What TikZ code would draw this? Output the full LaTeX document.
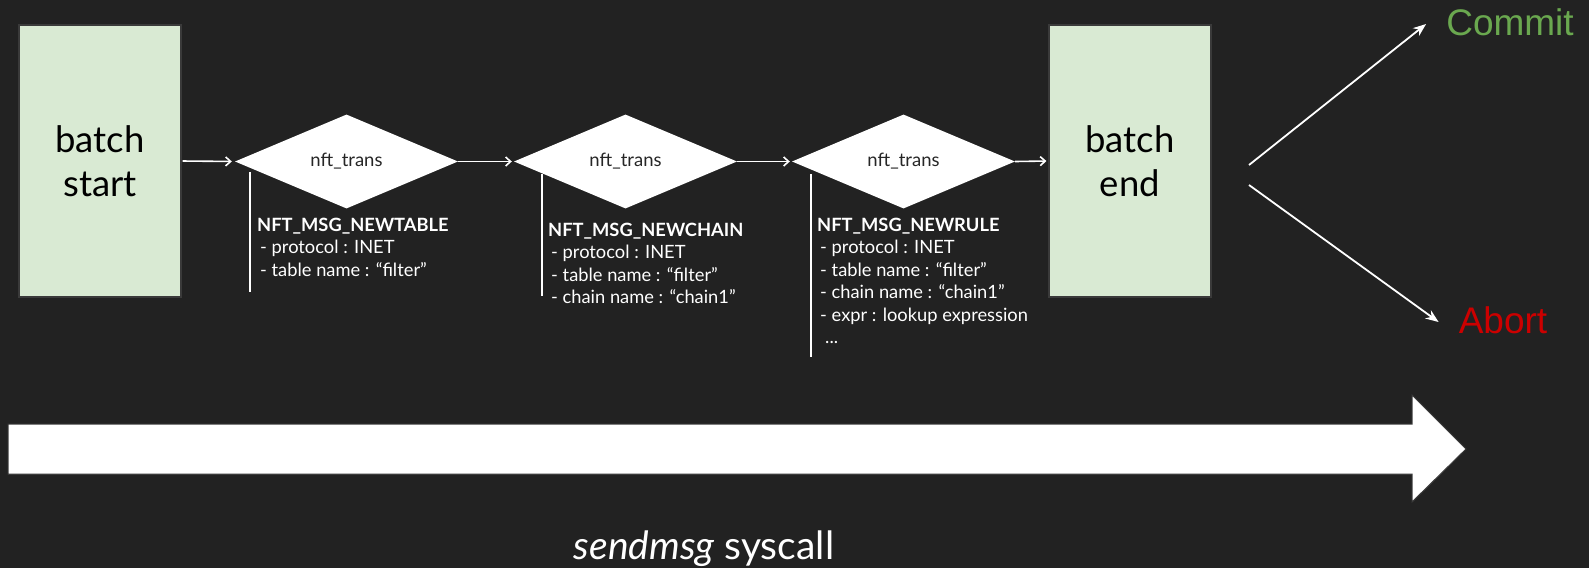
\documentclass[tikz,border=0pt]{standalone}
\usepackage{fontspec}
\setmainfont{Lato}
\newfontfamily\arialf{Liberation Sans}
\usetikzlibrary{shapes.geometric,arrows.meta}
\definecolor{bg}{HTML}{222222}
\definecolor{boxg}{HTML}{D9EAD3}
\definecolor{boxline}{HTML}{3A3A3A}
\definecolor{cgreen}{HTML}{6AA84F}
\definecolor{ared}{HTML}{CC0000}
\begin{document}
\begin{tikzpicture}[x=1pt,y=-1pt,
  batchbox/.style={draw=boxline, line width=1.2pt, fill=boxg, minimum width=162pt, minimum height=272pt, inner sep=0pt, align=center, font=\fontsize{36.5}{44}\selectfont, text=black},
  trans/.style={diamond, fill=white, minimum width=223pt, minimum height=94pt, aspect=2.37, inner sep=0pt, font=\fontsize{18.5}{20}\selectfont, text=black!85},
  info/.style={anchor=north west, inner sep=0pt, align=left, text=white, font=\fontsize{18.3}{22.5}\selectfont},
  flow/.style={white, line width=1.6pt, -{Straight Barb[length=5pt,width=9pt]}},
  vline/.style={white, line width=2pt},
  outarrow/.style={white, line width=1.8pt, -{Stealth[length=13pt,width=10pt]}},
  result/.style={inner sep=0pt, font=\arialf\fontsize{37}{40}\selectfont},
]
\fill[bg] (0,0) rectangle (1589,568);
\useasboundingbox (0,0) rectangle (1589,568);

\node[batchbox] (bs) at (100,161) {batch\\start};
\node[batchbox] (be) at (1130,161) {batch\\end};

\node[trans] (d1) at (346.5,161.5) {nft\_trans};
\node[trans] (d2) at (625.5,161.5) {nft\_trans};
\node[trans] (d3) at (903.5,161.5) {nft\_trans};

\draw[flow, shorten >=3pt, shorten <=1pt] (bs.east) -- (d1.west);
\draw[flow, shorten >=2pt] (d1.east) -- (d2.west);
\draw[flow, shorten >=2pt] (d2.east) -- (d3.west);
\draw[flow, shorten >=2pt] (d3.east) -- (be.west);

\draw[vline] (250,172) -- (250,292);
\draw[vline] (542,174) -- (542,296);
\draw[vline] (811,174) -- (811,357);

\node[info] (t1) at (257,217.5) {\textbf{NFT\_MSG\_NEWTABLE}\\\hspace{3pt}- protocol : INET\\\hspace{3pt}- table name : “filter”};
\node[info] (t2) at (548,222.5) {\textbf{NFT\_MSG\_NEWCHAIN}\\\hspace{3pt}- protocol : INET\\\hspace{3pt}- table name : “filter”\\\hspace{3pt}- chain name : “chain1”};
\node[info] (t3) at (817,217.5) {\textbf{NFT\_MSG\_NEWRULE}\\\hspace{3pt}- protocol : INET\\\hspace{3pt}- table name : “filter”\\\hspace{3pt}- chain name : “chain1”\\\hspace{3pt}- expr : lookup expression\\\hspace{8pt}...};

\node[result, text=cgreen] (commit) at (1510,22) {Commit};
\node[result, text=ared] (abort) at (1503,320) {Abort};

\coordinate (cs) at (1249,165);
\coordinate (as) at (1249,185);
\draw[outarrow] (cs) -- ([xshift=-20pt,yshift=-2pt]commit.west);
\draw[outarrow] (as) -- ([xshift=-20pt,yshift=-2pt]abort.west);

\draw[fill=white, draw=boxline, line width=1pt]
  (8,424) -- (1412,424) -- (1412,395) -- (1466,449) -- (1412,502) -- (1412,474) -- (8,474) -- cycle;

\node[anchor=base, inner sep=0pt, text=white, font=\fontsize{39}{44}\selectfont] (sys) at (704,559) {\textit{sendmsg} syscall};
\end{tikzpicture}
\end{document}
